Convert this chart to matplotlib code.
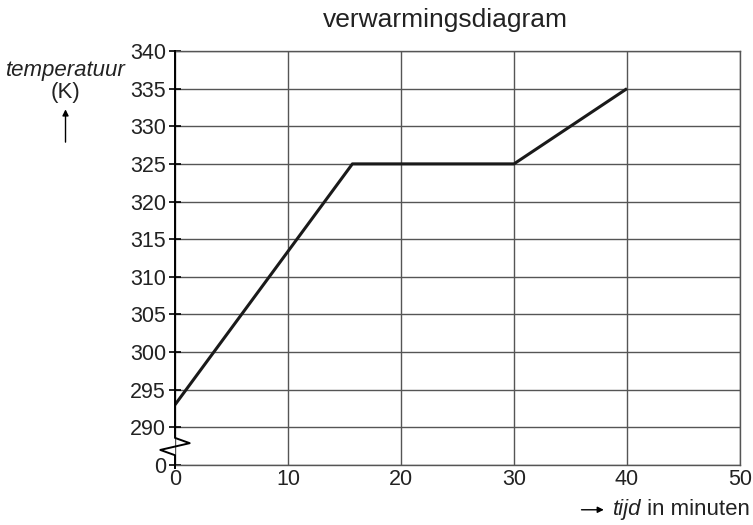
import matplotlib.pyplot as plt
from matplotlib.patches import FancyArrowPatch

plt.rcParams['font.family'] = ['Liberation Sans', 'DejaVu Sans']

# heating curve (time in minutes, temperature in K)
tijd = [0, 15.7, 30, 40]
temperatuur = [293, 325, 325, 335]

x_ticks = [0, 10, 20, 30, 40, 50]
y_ticks = [285, 290, 295, 300, 305, 310, 315, 320, 325, 330, 335, 340]
y_labels = ['0', '290', '295', '300', '305', '310', '315', '320', '325', '330', '335', '340']

fig = plt.figure(figsize=(7.53, 5.25), dpi=100)
ax = fig.add_axes([0.2324, 0.1143, 0.7503, 0.7886])

ax.plot(tijd, temperatuur, color='#1a1a1a', lw=2.2, solid_capstyle='butt', zorder=3)

ax.set_xlim(0, 50)
ax.set_ylim(285, 340)
ax.set_xticks(x_ticks)
ax.set_yticks(y_ticks)
ax.set_yticklabels(y_labels)
ax.grid(True, color='#555555', lw=1.0)
ax.tick_params(axis='y', direction='inout', length=9, width=1.2, labelsize=15.5, pad=2, labelcolor='#222222')
ax.tick_params(axis='x', length=0, labelsize=15.5, pad=3, labelcolor='#222222')

for s in ['top', 'right', 'bottom']:
    ax.spines[s].set_color('#555555')
    ax.spines[s].set_linewidth(1.0)
ax.spines['left'].set_visible(False)

# left axis with break symbol between 0 and 290
ax.plot([0, 0, 1.3, -1.3, 0, 0], [340, 288.6, 287.9, 287.0, 286.3, 284.6],
        color='black', lw=1.4, clip_on=False, zorder=4)

# y-axis label with arrow
fig.text(0.087, 0.866, 'temperatuur', fontsize=16, style='italic', ha='center', va='center', color='#222222')
fig.text(0.087, 0.824, '(K)', fontsize=16, ha='center', va='center', color='#222222')
fig.add_artist(FancyArrowPatch((0.087, 0.724), (0.087, 0.797), transform=fig.transFigure,
                               arrowstyle='-|>', mutation_scale=9, color='black', lw=1.0))

# x-axis label with arrow
t2 = fig.text(0.996, 0.029, ' in minuten', fontsize=16, ha='right', va='center', color='#222222')
fig.canvas.draw()
bb = t2.get_window_extent().transformed(fig.transFigure.inverted())
t1 = fig.text(bb.x0, 0.029, 'tijd', fontsize=16, style='italic', ha='right', va='center', color='#222222')
fig.canvas.draw()
bb1 = t1.get_window_extent().transformed(fig.transFigure.inverted())
fig.add_artist(FancyArrowPatch((bb1.x0 - 0.045, 0.029), (bb1.x0 - 0.008, 0.029), transform=fig.transFigure,
                               arrowstyle='-|>', mutation_scale=9, color='black', lw=1.0))

fig.text(0.592, 0.962, 'verwarmingsdiagram', fontsize=19, ha='center', va='center', color='#222222')

fig.savefig('out.png', dpi=100)
